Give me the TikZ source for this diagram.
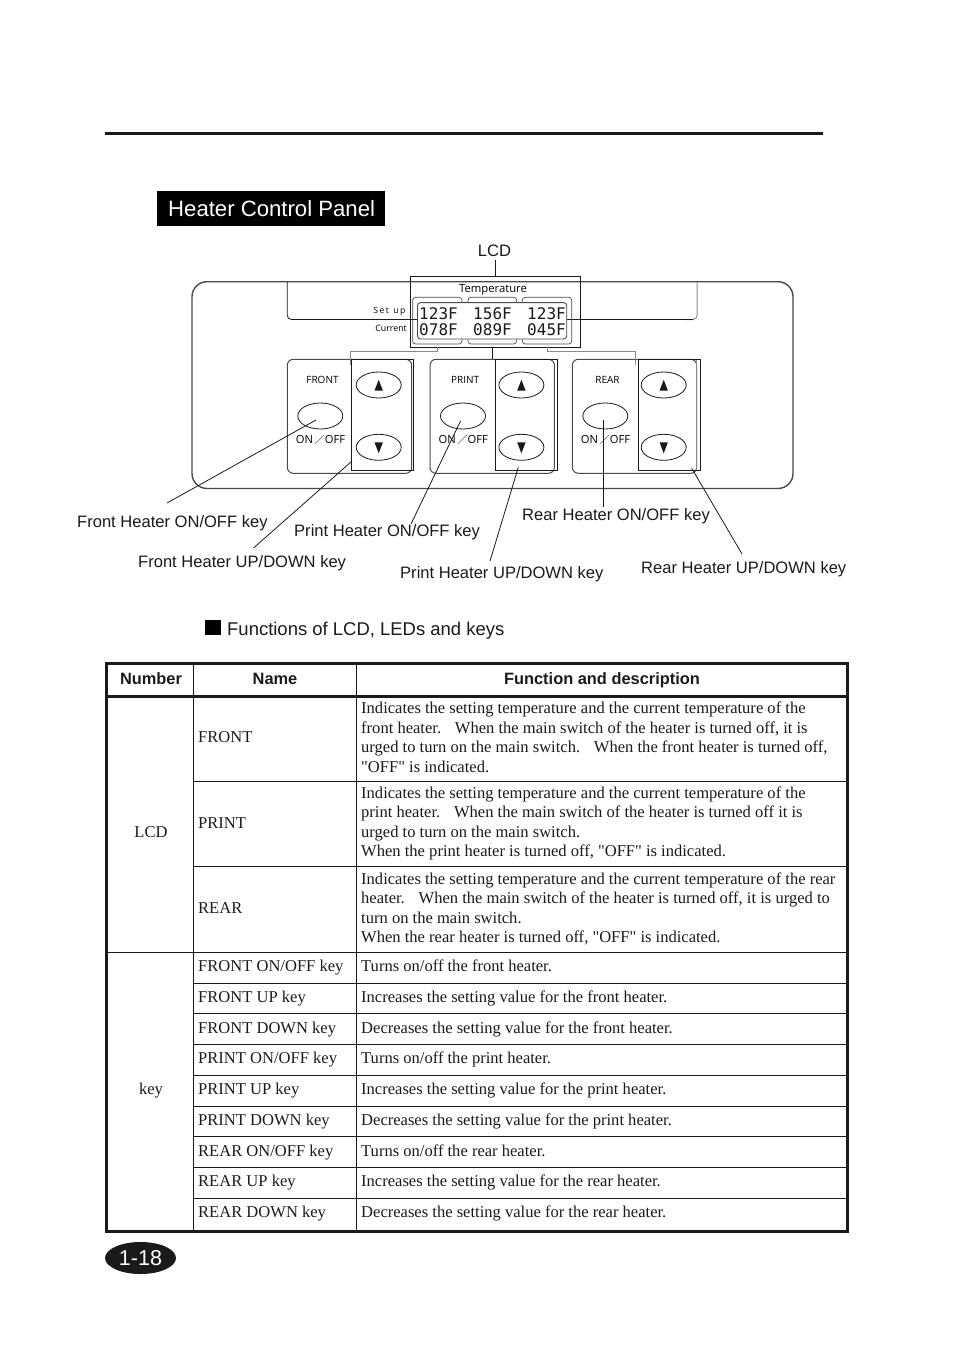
\documentclass[tikz,border=0pt]{standalone}
\usepackage{fontspec}
\setmainfont{Liberation Serif}[Ligatures=TeXOff]
\setsansfont{Liberation Sans}
\setmonofont{DejaVu Sans Mono}
\newfontfamily\panelfont{Open Sans}
\newfontfamily\slashfont{Noto Sans CJK JP}
\usetikzlibrary{positioning,shapes,calc}
\definecolor{ink}{HTML}{1A1A1A}
\definecolor{panelgray}{HTML}{4A4A4A}
\definecolor{softgray}{HTML}{8A8A8A}
\newcommand{\sentgap}{\hspace{13.8pt}}
\tikzset{
  partlabel/.style={font=\sffamily\fontsize{16.55}{19}\selectfont,text=ink,inner sep=0pt},
  headcell/.style={font=\sffamily\bfseries\fontsize{16.4}{19}\selectfont,text=ink,inner sep=0pt,anchor=base},
  bodycell/.style={font=\fontsize{16.55}{19.55}\selectfont,text=ink,inner sep=0pt,align=left,anchor=west},
  panelword/.style={font=\panelfont\fontsize{10}{12}\selectfont,text=black,inner sep=0pt},
  lcddigits/.style={font=\ttfamily\fontsize{16}{16.2}\selectfont,text=ink,inner sep=0pt,align=center},
  keyoval/.style={draw=ink,fill=white,line width=0.8pt,ellipse,inner sep=0pt,minimum width=45pt,minimum height=26pt},
  heaterbox/.style={draw=panelgray,line width=1pt,rounded corners=6pt},
  tablerule/.style={draw=ink,line width=1pt},
  tableframe/.style={draw=ink,line width=3pt},
  leader/.style={draw=ink,line width=0.8pt}
}
\begin{document}
\begin{tikzpicture}[x=1pt,y=-1pt]
  \useasboundingbox (0,0) rectangle (954,1348);
  % page head
  \draw[ink,line width=3pt] (105,133.5) -- (823,133.5);
  \node[fill=black,minimum width=228pt,minimum height=35pt,inner sep=0pt] (titlebar) at (271,208.5) {};
  \node[font=\sffamily\fontsize{22.15}{26}\selectfont,text=white,inner sep=0pt,anchor=west] (title) at (168,208.5) {Heater Control Panel};
  % panel
  \draw[panelgray,line width=1.4pt,rounded corners=15pt] (192,281.7) rectangle (793,488.5);
  \draw[ink,line width=0.8pt,rounded corners=4pt] (287.3,282) -- (287.3,319.5) -- (418,319.5);
  \draw[softgray,line width=1pt,rounded corners=4pt] (697,282) -- (697,319.5) -- (685,319.5);
  \draw[ink,line width=0.8pt] (693,319.5) -- (567,319.5);
  % lcd
  \node[draw=ink,line width=0.9pt,minimum width=170.7pt,minimum height=70.6pt,inner sep=0pt] (lcdframe) at (495.35,312) {};
  \foreach \x/\w in {437.3/49.3,492.3/48.7,547/49.4}
    \draw[panelgray,line width=0.7pt,rounded corners=3pt] ({\x-\w/2},297.3) rectangle ({\x+\w/2},344);
  \node[draw=panelgray,fill=white,line width=0.9pt,rounded corners=3pt,minimum width=149.2pt,minimum height=36.3pt,inner sep=0pt] (lcdwindow) at (492.1,320.8) {};
  \node[panelword,font=\panelfont\fontsize{11.3}{13}\selectfont] (tempword) at (493,289.5) {Temperature};
  \node[panelword,font=\panelfont\fontsize{8.6}{10}\selectfont,anchor=east] (setupword) at (405.5,311.5) {S\,e\,t\ \ u\,p};
  \node[panelword,font=\panelfont\fontsize{8.8}{10}\selectfont,anchor=east] (currentword) at (407,328) {Current};
  \node[lcddigits] (lcdfront) at (438.5,322) {123F\\078F};
  \node[lcddigits] (lcdprint) at (492.5,322) {156F\\089F};
  \node[lcddigits] (lcdrear) at (546.5,322) {123F\\045F};
  % heater groups
  \foreach \n/\t/\x/\k in {front/FRONT/287.3/382.3,print/PRINT/430/526.5,rear/REAR/572.3/669.5}{
    \draw[heaterbox] (\x,359.3) rectangle ($(\x,473.3)+(124.4,0)$);
    \node[draw=ink,line width=0.9pt,minimum width=62pt,minimum height=111.4pt,inner sep=0pt] (\n keys) at (\k,415) {};
    \node[panelword] (\n word) at ($(\x,380)+(35.2,0)$) {\t};
    \node[keyoval] (\n oval) at ($(\x,416)+(33,0)$) {};
    \node[panelword,font=\panelfont\fontsize{11.2}{12}\selectfont] (\n onoff) at ($(\x,440)+(33.2,0)$) {ON\,{\slashfont\fontsize{10}{12}\selectfont ／}OFF};
    \node[keyoval] (\n up) at ($(\x,385)+(91.4,0)$) {};
    \node[keyoval] (\n down) at ($(\x,447.3)+(91.4,0)$) {};
    \fill[ink] ($(\n up)+(-4.2,5.6)$) -- ($(\n up)+(4.2,5.6)$) -- ($(\n up)+(0,-5.2)$) -- cycle;
    \fill[ink] ($(\n down)+(-4.2,-5)$) -- ($(\n down)+(4.2,-5)$) -- ($(\n down)+(0,6)$) -- cycle;
  }
  \draw[softgray,line width=1pt] (696.8,360) -- (696.8,470);
  % lcd tie lines
  \draw[softgray,line width=1pt] (437.3,347.3) -- (437.3,351.7) -- (350,351.7) -- (350,365);
  \draw[ink,line width=0.8pt] (492.3,347.3) -- (492.3,359.3);
  \draw[softgray,line width=1pt] (547.3,347.3) -- (547.3,351.7) -- (635.3,351.7) -- (635.3,365);
  % part labels
  \node[partlabel] (lcdlabel) at (494.5,250.5) {LCD};
  \node[partlabel,anchor=west] (frontonofflabel) at (77,523.7) {Front Heater ON/OFF key};
  \node[partlabel,anchor=west] (frontupdownlabel) at (138,563.7) {Front Heater UP/DOWN key};
  \node[partlabel,anchor=west] (printonofflabel) at (294,532.7) {Print Heater ON/OFF key};
  \node[partlabel,anchor=west] (printupdownlabel) at (400,574.7) {Print Heater UP/DOWN key};
  \node[partlabel,anchor=west] (rearonofflabel) at (522,516.7) {Rear Heater ON/OFF key};
  \node[partlabel,anchor=west] (rearupdownlabel) at (641,569.7) {Rear Heater UP/DOWN key};
  \coordinate (frontfoot) at (167,503);
  \coordinate (frontupfoot) at (253.5,548);
  \coordinate (printfoot) at (411,524);
  \coordinate (printupfoot) at (490,561);
  \coordinate (rearfoot) at (603.3,507);
  \coordinate (rearupfoot) at (742,554);
  \coordinate (frontpoint) at (316,420);
  \coordinate (frontkeypoint) at (351.3,461.7);
  \coordinate (printpoint) at (460.7,420.7);
  \coordinate (printkeypoint) at (518.3,467.3);
  \coordinate (rearpoint) at (603.3,420);
  \coordinate (rearkeypoint) at (691.7,468.3);
  \draw[leader] (lcdlabel.south -| lcdframe.north) ++(0,3) -- (lcdframe.north);
  \draw[leader] (frontfoot) -- (frontpoint);
  \draw[leader] (frontupfoot) -- (frontkeypoint);
  \draw[leader] (printfoot) -- (printpoint);
  \draw[leader] (printupfoot) -- (printkeypoint);
  \draw[leader] (rearfoot) -- (rearpoint);
  \draw[leader] (rearupfoot) -- (rearkeypoint);
  % table heading
  \node[fill=black,minimum size=15.5pt,inner sep=0pt] (bullet) at (213,627.5) {};
  \node[font=\sffamily\fontsize{18.47}{21}\selectfont,text=ink,inner sep=0pt,anchor=west] (tablehead) at (227,630.5) {Functions of LCD, LEDs and keys};
  % table rules
  \foreach \y in {781,866,952,983,1013.5,1044.5,1075.5,1106,1136.5,1167.5,1198}
    \draw[tablerule] (193.5,\y) -- (847,\y);
  \draw[tablerule] (106,952) -- (193.5,952);
  \draw[tablerule] (193.5,664) -- (193.5,1231);
  \draw[tablerule] (356,664) -- (356,1231);
  \draw[tableframe] (106.5,696) -- (847.5,696);
  \draw[tableframe] (106.5,663.5) rectangle (847.5,1231.5);
  % table text
  \node[headcell] (numberhead) at (151,684) {Number};
  \node[headcell] (namehead) at (275,684) {Name};
  \node[headcell] (functionhead) at (602,684) {Function and description};
  \node[bodycell,anchor=base] (lcdcell) at (151,837) {LCD};
  \node[bodycell,anchor=base] (keycell) at (151,1094) {key};
  \node[bodycell,anchor=base west] (frontname) at (198,742) {FRONT};
  \node[bodycell,anchor=base west] (printname) at (198,828) {PRINT};
  \node[bodycell,anchor=base west] (rearname) at (198,913) {REAR};
  \node[bodycell] (frontfunc) at (361,737.5) {Indicates the setting temperature and the current temperature of the\\front heater.\sentgap When the main switch of the heater is turned off, it is\\urged to turn on the main switch.\sentgap When the front heater is turned off,\\"OFF" is indicated.};
  \node[bodycell] (printfunc) at (361,823.5) {Indicates the setting temperature and the current temperature of the\\print heater.\sentgap When the main switch of the heater is turned off it is\\urged to turn on the main switch.\\When the print heater is turned off, "OFF" is indicated.};
  \node[bodycell] (rearfunc) at (361,909) {Indicates the setting temperature and the current temperature of the rear\\heater.\sentgap When the main switch of the heater is turned off, it is urged to\\turn on the main switch.\\When the rear heater is turned off, "OFF" is indicated.};
  \foreach \i/\y/\a/\b in {
    1/971/{FRONT ON{/}OFF key}/{Turns on{/}off the front heater.},
    2/1002/{FRONT UP key}/{Increases the setting value for the front heater.},
    3/1033/{FRONT DOWN key}/{Decreases the setting value for the front heater.},
    4/1063.5/{PRINT ON{/}OFF key}/{Turns on{/}off the print heater.},
    5/1094.5/{PRINT UP key}/{Increases the setting value for the print heater.},
    6/1125.5/{PRINT DOWN key}/{Decreases the setting value for the print heater.},
    7/1156/{REAR ON{/}OFF key}/{Turns on{/}off the rear heater.},
    8/1186.5/{REAR UP key}/{Increases the setting value for the rear heater.},
    9/1217.5/{REAR DOWN key}/{Decreases the setting value for the rear heater.}}{
    \node[bodycell,anchor=base west] (keyname\i) at (198,\y) {\a};
    \node[bodycell,anchor=base west] (keyfunc\i) at (361,\y) {\b};
  }
  % page number
  \node[fill=ink,ellipse,minimum width=71pt,minimum height=32pt,inner sep=0pt] (pageoval) at (140.5,1258) {};
  \node[font=\sffamily\fontsize{21.5}{26}\selectfont,text=white,inner sep=0pt] (pagenumber) at (140.5,1258) {1-18};
\end{tikzpicture}
\end{document}
